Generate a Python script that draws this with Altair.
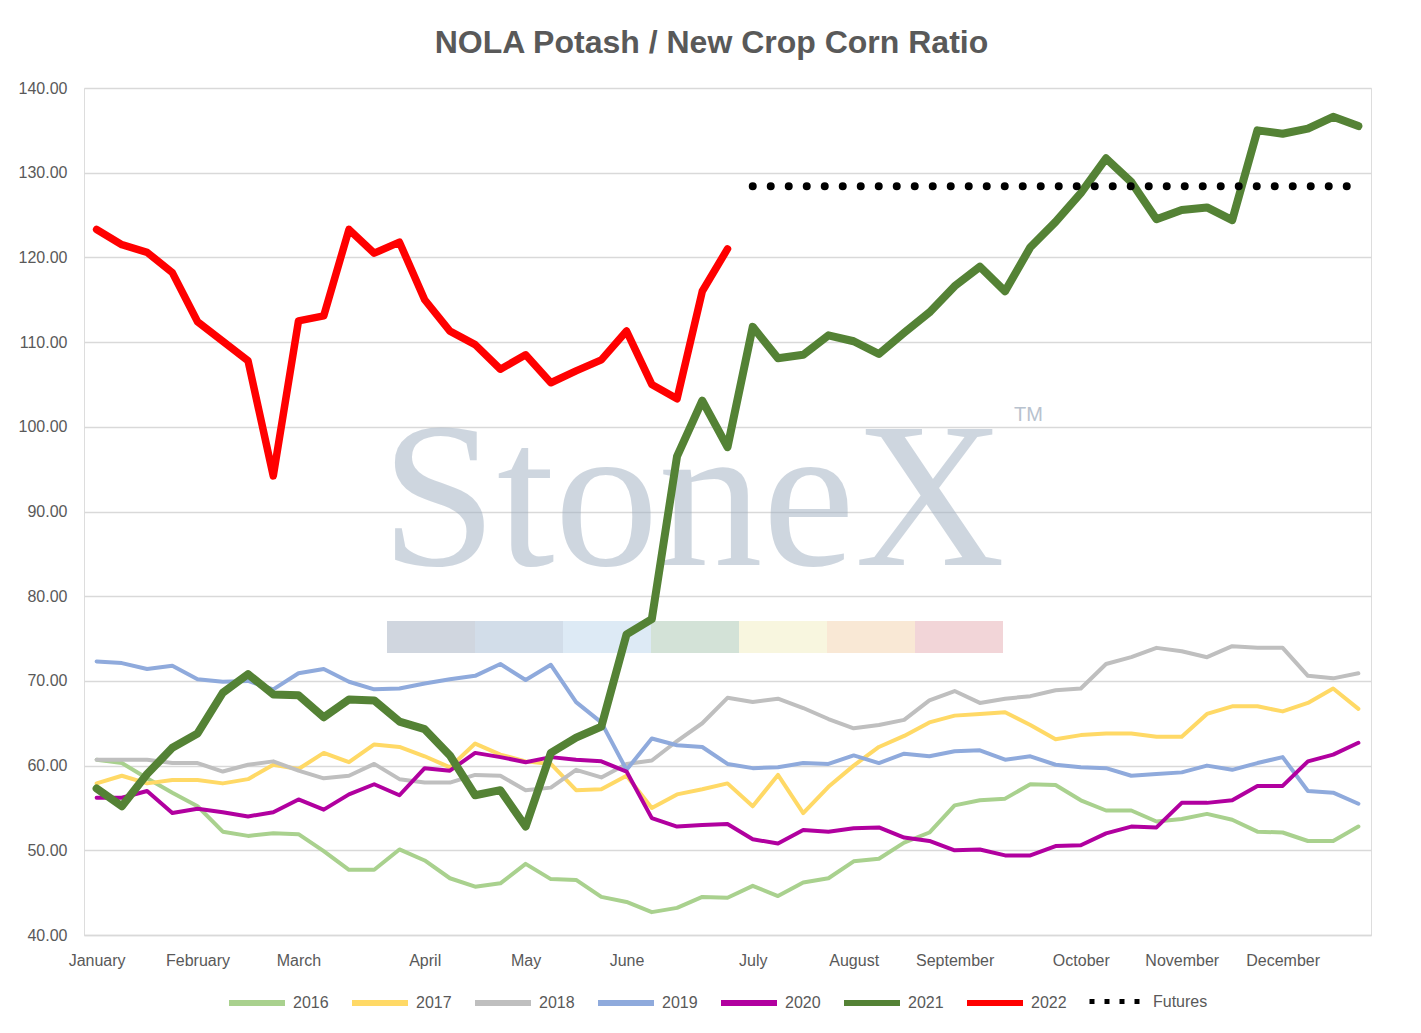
import altair as alt
import pandas as pd

# ---------------- data ----------------
weeks = list(range(51))
month_names = ["January", "February", "March", "April", "May", "June", "July",
               "August", "September", "October", "November", "December"]
month_ticks = [0, 4, 8, 13, 17, 21, 26, 30, 34, 39, 43, 47]

series_names = ["2016", "2017", "2018", "2019", "2020", "2021", "2022"]

s2016 = [60.7, 60.3, 58.5, 56.8, 55.2, 52.2, 51.7, 52.0, 51.9, 49.9, 47.7, 47.7, 50.1,
         48.8, 46.7, 45.7, 46.1, 48.4, 46.6, 46.5, 44.5, 43.9, 42.7, 43.2, 44.5,
         44.4, 45.8, 44.6, 46.2, 46.7, 48.7, 49.0, 50.9, 52.1, 55.3, 55.9, 56.1, 57.8,
         57.7, 55.9, 54.7, 54.7, 53.4, 53.7, 54.3, 53.6, 52.2, 52.1, 51.1, 51.1, 52.8]
s2017 = [57.9, 58.8, 57.9, 58.3, 58.3, 57.9, 58.4, 60.1, 59.6, 61.5, 60.4, 62.5, 62.2,
         61.1, 59.8, 62.6, 61.3, 60.5, 60.2, 57.1, 57.2, 58.8, 55.0, 56.6, 57.2,
         57.9, 55.2, 58.9, 54.4, 57.5, 60.0, 62.2, 63.5, 65.1, 65.9, 66.1, 66.3, 64.8,
         63.1, 63.6, 63.8, 63.8, 63.4, 63.4, 66.1, 67.0, 67.0, 66.4, 67.4, 69.1, 66.7]
s2018 = [60.7, 60.7, 60.7, 60.3, 60.3, 59.3, 60.1, 60.5, 59.4, 58.5, 58.8, 60.2, 58.4,
         58.0, 58.0, 58.9, 58.8, 57.1, 57.4, 59.5, 58.6, 60.2, 60.6, 62.9, 65.0,
         68.0, 67.5, 67.9, 66.8, 65.5, 64.4, 64.8, 65.4, 67.7, 68.8, 67.4, 67.9, 68.2,
         68.9, 69.1, 72.0, 72.8, 73.9, 73.5, 72.8, 74.1, 73.9, 73.9, 70.6, 70.3, 70.9]
s2019 = [72.3, 72.1, 71.4, 71.8, 70.2, 69.9, 70.0, 69.0, 70.9, 71.4, 69.9, 69.0, 69.1,
         69.7, 70.2, 70.6, 72.0, 70.1, 71.9, 67.5, 65.1, 59.5, 63.2, 62.4, 62.2,
         60.2, 59.7, 59.8, 60.3, 60.2, 61.2, 60.3, 61.4, 61.1, 61.7, 61.8, 60.7, 61.1,
         60.1, 59.8, 59.7, 58.8, 59.0, 59.2, 60.0, 59.5, 60.3, 61.0, 57.0, 56.8, 55.5]
s2020 = [56.2, 56.2, 57.0, 54.4, 54.9, 54.5, 54.0, 54.5, 56.0, 54.8, 56.6, 57.8, 56.5,
         59.7, 59.4, 61.5, 61.0, 60.4, 61.0, 60.7, 60.5, 59.3, 53.8, 52.8, 53.0,
         53.1, 51.3, 50.8, 52.4, 52.2, 52.6, 52.7, 51.5, 51.1, 50.0, 50.1, 49.4, 49.4,
         50.5, 50.6, 52.0, 52.8, 52.7, 55.6, 55.6, 55.9, 57.6, 57.6, 60.5, 61.3, 62.7]
s2021 = [57.3, 55.2, 59.0, 62.1, 63.8, 68.6, 70.8, 68.4, 68.3, 65.7, 67.8, 67.7, 65.2,
         64.3, 61.2, 56.5, 57.1, 52.8, 61.5, 63.3, 64.6, 75.5, 77.3, 96.5, 103.1,
         97.6, 111.8, 108.1, 108.5, 110.8, 110.1, 108.6, 111.1, 113.5, 116.6, 118.9, 116.0, 121.2,
         124.2, 127.6, 131.7, 128.9, 124.5, 125.6, 125.9, 124.4, 135.0, 134.6, 135.2, 136.6, 135.5]
s2022 = [123.3, 121.5, 120.6, 118.2, 112.4, 110.1, 107.8, 94.2, 112.5, 113.1, 123.3, 120.5, 121.8,
         115.0, 111.3, 109.7, 106.8, 108.5, 105.2, 106.6, 107.9, 111.3, 105.0, 103.3, 116.0,
         121.0]

futures_name = ["Futures", "Futures"]
futures_weeks = [26, 50]
futures_values = [128.4, 128.4]

# ---------------- styling ----------------
series_colors = ["#a9d18e", "#ffd966", "#bfbfbf", "#8faadc", "#b1009f", "#548235", "#ff0000"]
series_widths = [4, 4, 4, 4, 4, 8, 7.5]
band_colors = ["#d0d6df", "#d2dde9", "#ddeaf5", "#d3e2d7", "#f8f6df", "#f9e8d5", "#f2d5d8"]
FONT = "Liberation Sans"
TXT = "#595959"
GRID = "#d9d9d9"

all_series = [s2016, s2017, s2018, s2019, s2020, s2021, s2022]
df_fut = pd.DataFrame({"name": futures_name, "week": futures_weeks, "value": futures_values})

label_expr = ""
for t, m in zip(month_ticks, month_names):
    label_expr += f"datum.value == {t} ? '{m}' : "
label_expr += "''"

x_enc = alt.X(
    "week:Q",
    scale=alt.Scale(domain=[-0.5, 50.5], nice=False, zero=False),
    axis=alt.Axis(values=month_ticks, labelExpr=label_expr, title=None, grid=False,
                  ticks=False, tickSize=0, labelPadding=17, domainColor=GRID,
                  domainWidth=1.5, labelFontSize=16, labelColor=TXT, labelFont=FONT,
                  labelOverlap=False, labelFlush=False),
)
y_enc = alt.Y(
    "value:Q",
    scale=alt.Scale(domain=[40, 140], nice=False, zero=False),
    axis=alt.Axis(values=list(range(40, 141, 10)), format=".2f", title=None, grid=True,
                  gridColor=GRID, gridWidth=1.5, domain=False, ticks=False, tickSize=0,
                  labelPadding=17, labelFontSize=16, labelColor=TXT, labelFont=FONT),
)

main_legend = alt.Legend(title=None, orient="none", legendX=142, legendY=884,
                         direction="horizontal", columns=7, symbolType="stroke",
                         symbolSize=3136, symbolStrokeWidth=6, labelFontSize=16,
                         labelColor=TXT, labelFont=FONT,
                         labelOffset=5, columnPadding=11, padding=0)

color_enc = alt.Color("series:N", scale=alt.Scale(domain=series_names, range=series_colors),
                      legend=main_legend)

line_layers = []
for name, vals, w in zip(series_names, all_series, series_widths):
    d = pd.DataFrame({"series": [name] * len(vals), "week": weeks[:len(vals)], "value": vals})
    line_layers.append(
        alt.Chart(d).mark_line(strokeCap="round", strokeJoin="round", strokeWidth=w).encode(
            x=x_enc, y=y_enc, color=color_enc)
    )
lines = alt.layer(*line_layers)

futures = alt.Chart(df_fut).mark_line(strokeDash=[0, 18], strokeCap="round",
                                      strokeWidth=8).encode(
    x="week:Q",
    y="value:Q",
    color=alt.Color("name:N", scale=alt.Scale(domain=["Futures"], range=["#000000"]),
                    legend=alt.Legend(title=None, orient="none", legendX=1003, legendY=886,
                                      symbolType="stroke", symbolSize=2500,
                                      symbolDash=[5, 10], symbolStrokeWidth=5,
                                      labelFontSize=16,
                                      labelColor=TXT, labelFont=FONT,
                                      labelOffset=11, padding=0)),
)

one = pd.DataFrame({"a": [0]})
wm_text = alt.Chart(one).mark_text(text="StoneX", font="Liberation Serif", fontSize=208,
                                   color="#9fafc1", opacity=0.5, align="center",
                                   baseline="alphabetic").encode(
    x=alt.value(609), y=alt.value(477))
wm_tm = alt.Chart(one).mark_text(text="TM", font=FONT, fontSize=20, color="#b8c2ce",
                                 align="left", baseline="top").encode(
    x=alt.value(930), y=alt.value(317))
bands = []
for k, c in enumerate(band_colors):
    bands.append(alt.Chart(one).mark_rect(color=c).encode(
        x=alt.value(303 + 88 * k), x2=alt.value(303 + 88 * (k + 1)),
        y=alt.value(533), y2=alt.value(565)))

chart = alt.layer(wm_text, wm_tm, *bands, lines, futures).resolve_scale(
    color="independent"
).resolve_legend(color="independent").properties(
    width=1287,
    height=847,
    autosize=alt.AutoSizeParams(type="none"),
    padding={"left": 76, "top": 80, "right": 42, "bottom": 90},
    title=alt.TitleParams("NOLA Potash / New Crop Corn Ratio", fontSize=32, font=FONT,
                          fontWeight="bold", color=TXT, anchor="middle", dx=-16, offset=20),
).configure_view(stroke=None).configure(background="white")

chart.save("out.html", embed_options={"renderer": "svg", "actions": False})
